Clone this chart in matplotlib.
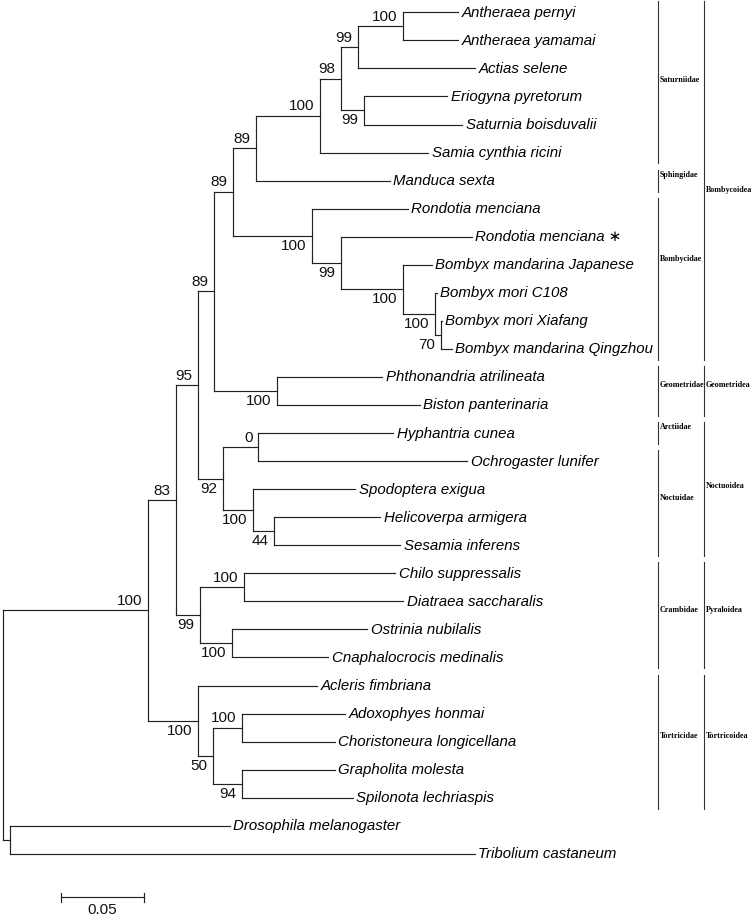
import matplotlib
matplotlib.use("Agg")
import matplotlib.pyplot as plt

# ---------------- data ----------------
node_names = [
    "root", "Lep", "A", "B", "D", "E", "F", "Sat", "S2", "S3", "Anth",
    "Antheraea pernyi", "Antheraea yamamai", "Actias selene", "S4",
    "Eriogyna pyretorum", "Saturnia boisduvalii", "Samia cynthia ricini",
    "Manduca sexta", "Bomb", "Rondotia menciana", "Bo2", "Rondotia menciana \u2217",
    "Bo3", "Bombyx mandarina Japanese", "Bo4", "Bombyx mori C108", "Bo5",
    "Bombyx mori Xiafang", "Bombyx mandarina Qingzhou",
    "Geo", "Phthonandria atrilineata", "Biston panterinaria",
    "Noc", "N1", "Hyphantria cunea", "Ochrogaster lunifer", "N2",
    "Spodoptera exigua", "N3", "Helicoverpa armigera", "Sesamia inferens",
    "Cra", "C1", "Chilo suppressalis", "Diatraea saccharalis", "C2",
    "Ostrinia nubilalis", "Cnaphalocrocis medinalis",
    "Tor", "Acleris fimbriana", "T1", "T2", "Adoxophyes honmai",
    "Choristoneura longicellana", "T3", "Grapholita molesta",
    "Spilonota lechriaspis",
    "Out", "Drosophila melanogaster", "Tribolium castaneum",
]
node_parent = [
    None, "root", "Lep", "A", "B", "D", "E", "F", "Sat", "S2", "S3",
    "Anth", "Anth", "S3", "S2",
    "S4", "S4", "Sat",
    "F", "E", "Bomb", "Bomb", "Bo2",
    "Bo2", "Bo3", "Bo3", "Bo4", "Bo4",
    "Bo5", "Bo5",
    "D", "Geo", "Geo",
    "B", "Noc", "N1", "N1", "Noc",
    "N2", "N2", "N3", "N3",
    "A", "Cra", "C1", "C1", "Cra",
    "C2", "C2",
    "Lep", "Tor", "Tor", "T1", "T2",
    "T2", "T1", "T3",
    "T3",
    "root", "Out", "Out",
]
branch_length = [
    0.0, 0.0873, 0.0169, 0.0133, 0.0096, 0.0114, 0.0139, 0.0386, 0.0127, 0.0102, 0.0271,
    0.0331, 0.0331, 0.0705, 0.0139,
    0.0500, 0.0590, 0.0651,
    0.0807, 0.0476, 0.0578, 0.0175, 0.0789,
    0.0373, 0.0175, 0.0193, 0.0012, 0.0036,
    0.0006, 0.0066,
    0.0380, 0.0633, 0.0861,
    0.0151, 0.0211, 0.0813, 0.1259, 0.0181,
    0.0614, 0.0127, 0.0639, 0.0759,
    0.0145, 0.0265, 0.0910, 0.0958, 0.0193,
    0.0813, 0.0578,
    0.0301, 0.0717, 0.0090, 0.0175, 0.0620,
    0.0560, 0.0175, 0.0560,
    0.0669,
    0.0042, 0.1325, 0.2801,
]
bootstrap = [
    None, 100, 83, 95, 89, 89, 89, 100, 98, 99, 100,
    None, None, None, 99,
    None, None, None,
    None, 100, None, 99, None,
    100, None, 100, None, 70,
    None, None,
    100, None, None,
    92, 0, None, None, 100,
    None, 44, None, None,
    99, 100, None, None, 100,
    None, None,
    100, None, 50, 100, None,
    None, 94, None,
    None,
    None, None, None,
]

family_names = ["Saturniidae", "Sphingidae", "Bombycidae", "Geometridae",
                "Arctiidae", "Noctuidae", "Crambidae", "Tortricidae"]
family_first = ["Antheraea pernyi", "Manduca sexta", "Rondotia menciana",
                "Phthonandria atrilineata", "Hyphantria cunea",
                "Ochrogaster lunifer", "Chilo suppressalis", "Acleris fimbriana"]
family_last = ["Samia cynthia ricini", "Manduca sexta", "Bombyx mandarina Qingzhou",
               "Biston panterinaria", "Hyphantria cunea", "Sesamia inferens",
               "Cnaphalocrocis medinalis", "Spilonota lechriaspis"]

superfamily_names = ["Bombycoidea", "Geometridea", "Noctuoidea",
                     "Pyraloidea", "Tortricoidea"]
superfamily_first = ["Antheraea pernyi", "Phthonandria atrilineata",
                     "Hyphantria cunea", "Chilo suppressalis", "Acleris fimbriana"]
superfamily_last = ["Bombyx mandarina Qingzhou", "Biston panterinaria",
                    "Sesamia inferens", "Cnaphalocrocis medinalis",
                    "Spilonota lechriaspis"]

scale_bar_length = 0.05
scale_bar_label = "0.05"

# ---------------- layout / style ----------------
W, H = 755, 918
PX = 1660.0          # pixels per branch-length unit
X0 = 3.0             # pixel x of root
ROW = 28.05          # pixels per leaf row
Y0 = 12.3            # pixel y of first leaf
LINE_C = "#222222"
LW = 0.85
leaf_font = dict(family=["Liberation Sans", "DejaVu Sans"], style="italic", fontsize=10.8)
boot_font = dict(family=["Liberation Sans Narrow", "Liberation Sans", "DejaVu Sans"], fontsize=11)
fam_font = dict(family=["Liberation Serif", "DejaVu Serif"], weight="bold", fontsize=5.8)
fam_line_x_px = 658
sup_line_x_px = 704
fam_label_dy = {"Bombycidae": -0.7, "Saturniidae": -0.1}
sup_label_dy = {"Bombycoidea": 0.35, "Noctuoidea": -0.1}


def px_x(p):
    return p / PX


def px_y(p):
    return p / ROW


fig = plt.figure(figsize=(W / 100, H / 100), dpi=100)
ax = fig.add_axes([0, 0, 1, 1])
ax.set_xlim(-X0 / PX, (W - X0) / PX)
ax.set_ylim((H - Y0) / ROW, -Y0 / ROW)
ax.axis("off")

# build tree
children = {n: [] for n in node_names}
for n, p in zip(node_names, node_parent):
    if p is not None:
        children[p].append(n)
blen = dict(zip(node_names, branch_length))
boot = dict(zip(node_names, bootstrap))
parent = dict(zip(node_names, node_parent))

depth = {}
ypos = {}
leaf_counter = [0]


def layout(n, d):
    depth[n] = d
    if not children[n]:
        ypos[n] = leaf_counter[0]
        leaf_counter[0] += 1
    else:
        for c in children[n]:
            layout(c, d + blen[c])
        ypos[n] = 0.5 * (ypos[children[n][0]] + ypos[children[n][-1]])


layout("root", 0.0)

for n in node_names:
    p = parent[n]
    if p is not None:
        ax.plot([depth[p], depth[n]], [ypos[n], ypos[n]], color=LINE_C, lw=LW,
                solid_capstyle="projecting")
    if children[n]:
        ax.plot([depth[n], depth[n]], [ypos[children[n][0]], ypos[children[n][-1]]],
                color=LINE_C, lw=LW, solid_capstyle="projecting")
    else:
        ax.text(depth[n] + px_x(3.5), ypos[n] + px_y(0.5), n, ha="left", va="center",
                color="black", **leaf_font)
    if boot[n] is not None:
        first = children[p][0] == n
        if first:
            ax.text(depth[n] - px_x(5.5), ypos[n] - px_y(2.5), str(boot[n]),
                    ha="right", va="bottom", color="#111111", **boot_font)
        else:
            ax.text(depth[n] - px_x(5.5), ypos[n] + px_y(3.0), str(boot[n]),
                    ha="right", va="top", color="#111111", **boot_font)

# family / superfamily brackets
ext = 0.39
for name, a, b in zip(family_names, family_first, family_last):
    y1, y2 = ypos[a] - ext, ypos[b] + ext
    x = px_x(fam_line_x_px - X0)
    ax.plot([x, x], [y1, y2], color="#333333", lw=0.8)
    ax.text(x + px_x(2), 0.5 * (y1 + y2) + fam_label_dy.get(name, -0.2), name,
            ha="left", va="center", **fam_font)
for name, a, b in zip(superfamily_names, superfamily_first, superfamily_last):
    y1, y2 = ypos[a] - ext, ypos[b] + ext
    x = px_x(sup_line_x_px - X0)
    ax.plot([x, x], [y1, y2], color="#333333", lw=0.8)
    ax.text(x + px_x(2), 0.5 * (y1 + y2) + sup_label_dy.get(name, -0.2), name,
            ha="left", va="center", **fam_font)

# scale bar
sb_x0 = px_x(61 - X0)
sb_y = px_y(897 - Y0)
ax.plot([sb_x0, sb_x0 + scale_bar_length], [sb_y, sb_y], color=LINE_C, lw=LW)
for xx in (sb_x0, sb_x0 + scale_bar_length):
    ax.plot([xx, xx], [sb_y - px_y(4.5), sb_y + px_y(4.5)], color=LINE_C, lw=LW)
ax.text(sb_x0 + scale_bar_length / 2, px_y(910 - Y0), scale_bar_label,
        ha="center", va="center", color="#111111", **boot_font)

fig.savefig("out.png", dpi=100)
